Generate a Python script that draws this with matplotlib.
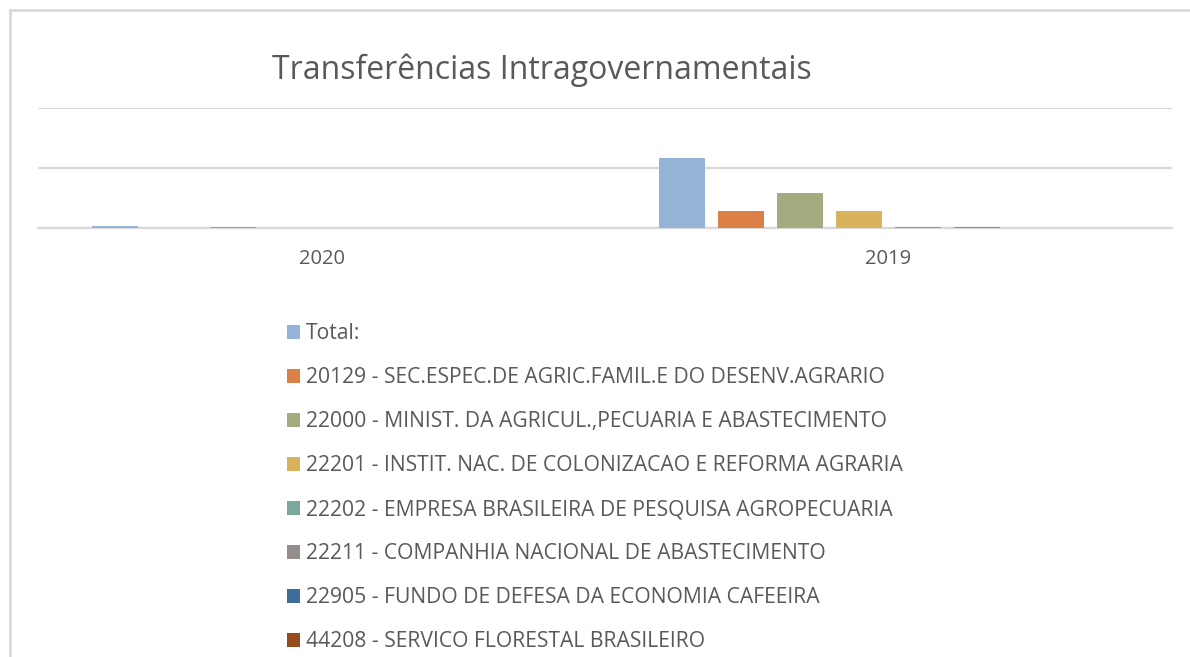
import numpy as np
import matplotlib
matplotlib.use('Agg')
import matplotlib.pyplot as plt
from matplotlib.lines import Line2D

# dados
anos = ['2020', '2019']
series = ['Total:',
          '20129 - SEC.ESPEC.DE AGRIC.FAMIL.E DO DESENV.AGRARIO',
          '22000 - MINIST. DA AGRICUL.,PECUARIA E ABASTECIMENTO',
          '22201 - INSTIT. NAC. DE COLONIZACAO E REFORMA AGRARIA',
          '22202 - EMPRESA BRASILEIRA DE PESQUISA AGROPECUARIA',
          '22211 - COMPANHIA NACIONAL DE ABASTECIMENTO',
          '22905 - FUNDO DE DEFESA DA ECONOMIA CAFEEIRA',
          '44208 - SERVICO FLORESTAL BRASILEIRO']
valores_2020 = [0.035, 0.0, 0.012, 0.0, 0.008, 0.0, 0.0, 0.0]
valores_2019 = [1.17, 0.28, 0.58, 0.28, 0.012, 0.012, 0.0, 0.0]
cores = ['#95b3d7', '#dd8047', '#a5ab81', '#d8b25c',
         '#7ba79d', '#968c8c', '#3d6e99', '#964b1d']

plt.rcParams['font.family'] = ['Open Sans', 'DejaVu Sans']

fig = plt.figure(figsize=(11.9, 6.57), dpi=100)
W, H = 1190.0, 657.0
ax = fig.add_axes([38 / W, 1 - 228 / H, (1172 - 38) / W, 120 / H])

x = np.arange(len(anos))
passo = 0.104
largura = 0.081
for i, nome in enumerate(series):
    vals = [valores_2020[i], valores_2019[i]]
    ax.bar(x + (i - 3.5) * passo, vals, largura, color=cores[i], label=nome,
           zorder=3)

ax.set_xlim(-0.5, 1.5)
ax.set_ylim(0, 2)
ax.set_yticks([0, 1, 2])
ax.set_yticklabels([])
ax.yaxis.grid(True, color='#d9d9d9', linewidth=1.6, zorder=0)
ax.tick_params(axis='y', length=0)
ax.set_xticks(x)
ax.set_xticklabels(anos, fontsize=14.5, color='#595959')
ax.tick_params(axis='x', length=0, pad=15)
for s in ['top', 'right', 'left']:
    ax.spines[s].set_visible(False)
ax.spines['bottom'].set_color('#d9d9d9')
ax.spines['bottom'].set_linewidth(1.6)

fig.text(542 / W, 1 - 70 / H, 'Transferências Intragovernamentais',
         ha='center', va='center', fontsize=23, color='#595959')

fig.legend(loc='upper left', bbox_to_anchor=(287 / W, 1 - 323 / H),
           frameon=False, fontsize=15.2, labelcolor='#595959',
           handlelength=0.6, handleheight=0.65, handletextpad=0.3,
           labelspacing=1.09, borderpad=0, borderaxespad=0)

# moldura (topo e esquerda)
fig.add_artist(Line2D([10 / W, 10 / W], [0, 1 - 10 / H], transform=fig.transFigure,
                      color='#d9d9d9', linewidth=2))
fig.add_artist(Line2D([10 / W, 1], [1 - 10 / H, 1 - 10 / H], transform=fig.transFigure,
                      color='#d9d9d9', linewidth=2))

fig.savefig('out.png', dpi=100)
